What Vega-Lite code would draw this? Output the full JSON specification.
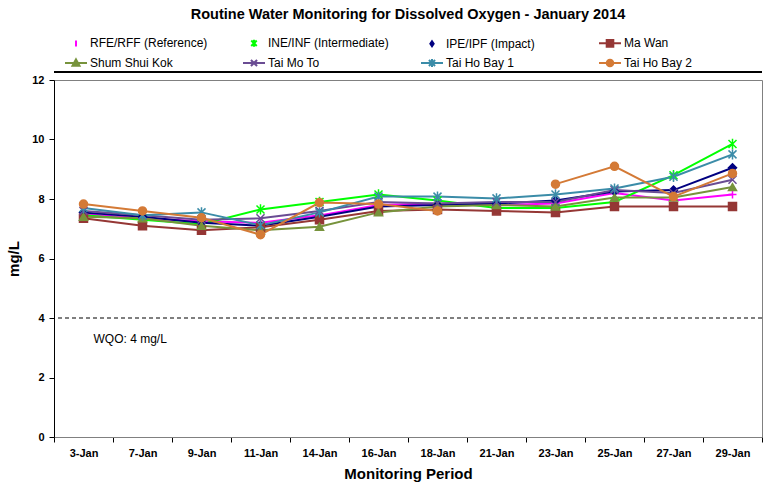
{
  "$schema": "https://vega.github.io/schema/vega-lite/v6.json",
  "width": 708,
  "height": 357,
  "autosize": {"type": "none"},
  "padding": {"left": 54, "top": 80, "right": 1, "bottom": 49},
  "background": "white",
  "title": {"text": "Routine Water Monitoring for Dissolved Oxygen - January 2014", "fontSize": 14.5, "fontWeight": "bold", "font": "Liberation Sans", "anchor": "middle", "frame": "group", "offset": 9, "color": "#000"},
  "config": {
    "font": "Liberation Sans",
    "view": {"stroke": "#808080", "strokeWidth": 1},
    "axis": {"labelFont": "Liberation Sans", "titleFont": "Liberation Sans", "labelColor": "#000", "titleColor": "#000", "tickColor": "#000", "domainColor": "#000"}
  },
  "data": {"values": [
    {"date": "3-Jan", "series": "RFE/RFF (Reference)", "value": 7.5},
    {"date": "7-Jan", "series": "RFE/RFF (Reference)", "value": 7.35},
    {"date": "9-Jan", "series": "RFE/RFF (Reference)", "value": 7.25},
    {"date": "11-Jan", "series": "RFE/RFF (Reference)", "value": 7.2},
    {"date": "14-Jan", "series": "RFE/RFF (Reference)", "value": 7.45},
    {"date": "16-Jan", "series": "RFE/RFF (Reference)", "value": 7.8},
    {"date": "18-Jan", "series": "RFE/RFF (Reference)", "value": 7.85},
    {"date": "21-Jan", "series": "RFE/RFF (Reference)", "value": 7.8},
    {"date": "23-Jan", "series": "RFE/RFF (Reference)", "value": 7.85},
    {"date": "25-Jan", "series": "RFE/RFF (Reference)", "value": 8.2},
    {"date": "27-Jan", "series": "RFE/RFF (Reference)", "value": 7.95},
    {"date": "29-Jan", "series": "RFE/RFF (Reference)", "value": 8.15},
    {"date": "3-Jan", "series": "INE/INF (Intermediate)", "value": 7.45},
    {"date": "7-Jan", "series": "INE/INF (Intermediate)", "value": 7.3},
    {"date": "9-Jan", "series": "INE/INF (Intermediate)", "value": 7.15},
    {"date": "11-Jan", "series": "INE/INF (Intermediate)", "value": 7.65},
    {"date": "14-Jan", "series": "INE/INF (Intermediate)", "value": 7.9},
    {"date": "16-Jan", "series": "INE/INF (Intermediate)", "value": 8.15},
    {"date": "18-Jan", "series": "INE/INF (Intermediate)", "value": 7.95},
    {"date": "21-Jan", "series": "INE/INF (Intermediate)", "value": 7.7},
    {"date": "23-Jan", "series": "INE/INF (Intermediate)", "value": 7.7},
    {"date": "25-Jan", "series": "INE/INF (Intermediate)", "value": 7.9},
    {"date": "27-Jan", "series": "INE/INF (Intermediate)", "value": 8.8},
    {"date": "29-Jan", "series": "INE/INF (Intermediate)", "value": 9.85},
    {"date": "3-Jan", "series": "IPE/IPF (Impact)", "value": 7.55},
    {"date": "7-Jan", "series": "IPE/IPF (Impact)", "value": 7.4},
    {"date": "9-Jan", "series": "IPE/IPF (Impact)", "value": 7.2},
    {"date": "11-Jan", "series": "IPE/IPF (Impact)", "value": 7.1},
    {"date": "14-Jan", "series": "IPE/IPF (Impact)", "value": 7.4},
    {"date": "16-Jan", "series": "IPE/IPF (Impact)", "value": 7.75},
    {"date": "18-Jan", "series": "IPE/IPF (Impact)", "value": 7.8},
    {"date": "21-Jan", "series": "IPE/IPF (Impact)", "value": 7.85},
    {"date": "23-Jan", "series": "IPE/IPF (Impact)", "value": 7.95},
    {"date": "25-Jan", "series": "IPE/IPF (Impact)", "value": 8.25},
    {"date": "27-Jan", "series": "IPE/IPF (Impact)", "value": 8.3},
    {"date": "29-Jan", "series": "IPE/IPF (Impact)", "value": 9.05},
    {"date": "3-Jan", "series": "Ma Wan", "value": 7.35},
    {"date": "7-Jan", "series": "Ma Wan", "value": 7.1},
    {"date": "9-Jan", "series": "Ma Wan", "value": 6.95},
    {"date": "11-Jan", "series": "Ma Wan", "value": 7.05},
    {"date": "14-Jan", "series": "Ma Wan", "value": 7.3},
    {"date": "16-Jan", "series": "Ma Wan", "value": 7.6},
    {"date": "18-Jan", "series": "Ma Wan", "value": 7.65},
    {"date": "21-Jan", "series": "Ma Wan", "value": 7.6},
    {"date": "23-Jan", "series": "Ma Wan", "value": 7.55},
    {"date": "25-Jan", "series": "Ma Wan", "value": 7.75},
    {"date": "27-Jan", "series": "Ma Wan", "value": 7.75},
    {"date": "29-Jan", "series": "Ma Wan", "value": 7.75},
    {"date": "3-Jan", "series": "Shum Shui Kok", "value": 7.4},
    {"date": "7-Jan", "series": "Shum Shui Kok", "value": 7.35},
    {"date": "9-Jan", "series": "Shum Shui Kok", "value": 7.1},
    {"date": "11-Jan", "series": "Shum Shui Kok", "value": 6.95},
    {"date": "14-Jan", "series": "Shum Shui Kok", "value": 7.07},
    {"date": "16-Jan", "series": "Shum Shui Kok", "value": 7.55},
    {"date": "18-Jan", "series": "Shum Shui Kok", "value": 7.75},
    {"date": "21-Jan", "series": "Shum Shui Kok", "value": 7.8},
    {"date": "23-Jan", "series": "Shum Shui Kok", "value": 7.75},
    {"date": "25-Jan", "series": "Shum Shui Kok", "value": 8.05},
    {"date": "27-Jan", "series": "Shum Shui Kok", "value": 8.05},
    {"date": "29-Jan", "series": "Shum Shui Kok", "value": 8.4},
    {"date": "3-Jan", "series": "Tai Mo To", "value": 7.6},
    {"date": "7-Jan", "series": "Tai Mo To", "value": 7.45},
    {"date": "9-Jan", "series": "Tai Mo To", "value": 7.3},
    {"date": "11-Jan", "series": "Tai Mo To", "value": 7.35},
    {"date": "14-Jan", "series": "Tai Mo To", "value": 7.6},
    {"date": "16-Jan", "series": "Tai Mo To", "value": 7.9},
    {"date": "18-Jan", "series": "Tai Mo To", "value": 7.85},
    {"date": "21-Jan", "series": "Tai Mo To", "value": 7.9},
    {"date": "23-Jan", "series": "Tai Mo To", "value": 7.9},
    {"date": "25-Jan", "series": "Tai Mo To", "value": 8.3},
    {"date": "27-Jan", "series": "Tai Mo To", "value": 8.2},
    {"date": "29-Jan", "series": "Tai Mo To", "value": 8.65},
    {"date": "3-Jan", "series": "Tai Ho Bay 1", "value": 7.7},
    {"date": "7-Jan", "series": "Tai Ho Bay 1", "value": 7.45},
    {"date": "9-Jan", "series": "Tai Ho Bay 1", "value": 7.55},
    {"date": "11-Jan", "series": "Tai Ho Bay 1", "value": 7.12},
    {"date": "14-Jan", "series": "Tai Ho Bay 1", "value": 7.55},
    {"date": "16-Jan", "series": "Tai Ho Bay 1", "value": 8.08},
    {"date": "18-Jan", "series": "Tai Ho Bay 1", "value": 8.08},
    {"date": "21-Jan", "series": "Tai Ho Bay 1", "value": 8.02},
    {"date": "23-Jan", "series": "Tai Ho Bay 1", "value": 8.15},
    {"date": "25-Jan", "series": "Tai Ho Bay 1", "value": 8.35},
    {"date": "27-Jan", "series": "Tai Ho Bay 1", "value": 8.75},
    {"date": "29-Jan", "series": "Tai Ho Bay 1", "value": 9.5},
    {"date": "3-Jan", "series": "Tai Ho Bay 2", "value": 7.83},
    {"date": "7-Jan", "series": "Tai Ho Bay 2", "value": 7.6},
    {"date": "9-Jan", "series": "Tai Ho Bay 2", "value": 7.37},
    {"date": "11-Jan", "series": "Tai Ho Bay 2", "value": 6.8},
    {"date": "14-Jan", "series": "Tai Ho Bay 2", "value": 7.88},
    {"date": "16-Jan", "series": "Tai Ho Bay 2", "value": 7.83},
    {"date": "18-Jan", "series": "Tai Ho Bay 2", "value": 7.6},
    {"date": "21-Jan", "series": "Tai Ho Bay 2", "value": null},
    {"date": "23-Jan", "series": "Tai Ho Bay 2", "value": 8.5},
    {"date": "25-Jan", "series": "Tai Ho Bay 2", "value": 9.1},
    {"date": "27-Jan", "series": "Tai Ho Bay 2", "value": 8.08},
    {"date": "29-Jan", "series": "Tai Ho Bay 2", "value": 8.86}
  ]},
  "encoding": {
    "x": {"field": "date", "type": "nominal", "sort": ["3-Jan","7-Jan","9-Jan","11-Jan","14-Jan","16-Jan","18-Jan","21-Jan","23-Jan","25-Jan","27-Jan","29-Jan"],
      "scale": {"paddingInner": 0, "paddingOuter": 0},
      "axis": {"title": "Monitoring Period", "titleFontSize": 15, "titleFontWeight": "bold", "titlePadding": 8, "labelAngle": 0, "labelFontSize": 11, "labelFontWeight": "bold", "labelPadding": 5, "tickBand": "extent", "tickSize": 5, "domainColor": "#808080"}},
    "y": {"field": "value", "type": "quantitative", "scale": {"domain": [0, 12], "nice": false},
      "axis": {"title": "mg/L", "titleFontSize": 15, "titleFontWeight": "bold", "titlePadding": 10, "values": [0,2,4,6,8,10,12], "grid": false, "labelFontSize": 11, "labelFontWeight": "bold", "labelPadding": 5, "tickSize": 5}}
  },
  "layer": [
    {
      "data": {"values": [{"v": 4}]},
      "mark": {"type": "rule", "color": "#000", "strokeDash": [4, 3], "strokeWidth": 1.2},
      "encoding": {"x": null, "y": {"field": "v", "type": "quantitative"}}
    },
    {
      "data": {"values": [{"v": 12.27}]},
      "mark": {"type": "rule", "color": "#000", "strokeWidth": 2, "clip": false},
      "encoding": {"x": null, "y": {"field": "v", "type": "quantitative"}}
    },
    {
      "data": {"values": [{"date": "3-Jan", "v": 3.3, "label": "WQO: 4 mg/L"}]},
      "mark": {"type": "text", "align": "left", "baseline": "middle", "dx": 10, "fontSize": 12, "font": "Liberation Sans", "color": "#000"},
      "encoding": {"y": {"field": "v", "type": "quantitative"}, "text": {"field": "label"}}
    },
    {
      "mark": {"type": "line", "strokeWidth": 2, "invalid": "break-paths-show-domains"},
      "encoding": {
        "stroke": {"field": "series", "type": "nominal", "legend": null,
          "scale": {"domain": ["RFE/RFF (Reference)","INE/INF (Intermediate)","IPE/IPF (Impact)","Ma Wan","Shum Shui Kok","Tai Mo To","Tai Ho Bay 1","Tai Ho Bay 2"],
            "range": ["#FF00FF","#00FF00","#000080","#953735","#77933C","#6A4C93","#3B8CA8","#D47A36"]}}
      }
    },
    {
      "transform": [{"filter": "datum.value != null"}],
      "mark": {"type": "point", "filled": true, "size": 64, "strokeWidth": 1.5, "opacity": 1},
      "encoding": {
        "fill": {"field": "series", "type": "nominal", "legend": null,
          "scale": {"domain": ["RFE/RFF (Reference)","INE/INF (Intermediate)","IPE/IPF (Impact)","Ma Wan","Shum Shui Kok","Tai Mo To","Tai Ho Bay 1","Tai Ho Bay 2"],
            "range": ["#FF00FF","#00FF00","#000080","#953735","#77933C","#6A4C93","#3B8CA8","#D47A36"]}},
        "stroke": {"field": "series", "type": "nominal", "legend": null,
          "scale": {"domain": ["RFE/RFF (Reference)","INE/INF (Intermediate)","IPE/IPF (Impact)","Ma Wan","Shum Shui Kok","Tai Mo To","Tai Ho Bay 1","Tai Ho Bay 2"],
            "range": ["#FF00FF","#00FF00","#000080","#953735","#77933C","#6A4C93","#3B8CA8","#D47A36"]}},
        "shape": {"field": "series", "type": "nominal", "legend": null,
          "scale": {"domain": ["RFE/RFF (Reference)","INE/INF (Intermediate)","IPE/IPF (Impact)","Ma Wan","Shum Shui Kok","Tai Mo To","Tai Ho Bay 1","Tai Ho Bay 2"],
            "range": ["M-1,0H1M0,-1V1", "M-1,-1L1,1M-1,1L1,-1M0,-1.3V1.3", "diamond", "square", "triangle-up", "M-1,-1L1,1M-1,1L1,-1", "M-1,-1L1,1M-1,1L1,-1M0,-1.3V1.3", "circle"]}}
      }
    },
    {
      "transform": [{"filter": "false"}],
      "mark": {"type": "point", "filled": true, "strokeWidth": 2, "opacity": 1},
      "encoding": {
        "fill": {"field": "series", "type": "nominal",
          "scale": {"domain": ["RFE/RFF (Reference)","INE/INF (Intermediate)","IPE/IPF (Impact)","Ma Wan","Shum Shui Kok","Tai Mo To","Tai Ho Bay 1","Tai Ho Bay 2"],
            "range": ["#FF00FF","#00FF00","#000080","#953735","#77933C","#6A4C93","#3B8CA8","#D47A36"]},
          "legend": {"orient": "none", "direction": "horizontal", "legendX": 10, "legendY": -49, "columns": 4, "columnPadding": 28, "rowPadding": 0, "symbolSize": 484, "symbolStrokeWidth": 2, "symbolOpacity": 1, "labelFontSize": 12, "labelFont": "Liberation Sans", "labelColor": "#000", "labelOffset": 2, "labelLimit": 300, "title": null, "gridAlign": "all"}},
        "stroke": {"field": "series", "type": "nominal",
          "scale": {"domain": ["RFE/RFF (Reference)","INE/INF (Intermediate)","IPE/IPF (Impact)","Ma Wan","Shum Shui Kok","Tai Mo To","Tai Ho Bay 1","Tai Ho Bay 2"],
            "range": ["#FF00FF","#00FF00","#000080","#953735","#77933C","#6A4C93","#3B8CA8","#D47A36"]},
          "legend": {"orient": "none", "direction": "horizontal", "legendX": 10, "legendY": -49, "columns": 4, "columnPadding": 28, "rowPadding": 0, "symbolSize": 484, "symbolStrokeWidth": 2, "symbolOpacity": 1, "labelFontSize": 12, "labelFont": "Liberation Sans", "labelColor": "#000", "labelOffset": 2, "labelLimit": 300, "title": null, "gridAlign": "all"}},
        "shape": {"field": "series", "type": "nominal",
          "scale": {"domain": ["RFE/RFF (Reference)","INE/INF (Intermediate)","IPE/IPF (Impact)","Ma Wan","Shum Shui Kok","Tai Mo To","Tai Ho Bay 1","Tai Ho Bay 2"],
            "range": ["M0,-0.28V0.28", "M-0.25,-0.25L0.25,0.25M-0.25,0.25L0.25,-0.25M0,-0.32V0.32", "M0,-0.22L0.15,0L0,0.22L-0.15,0Z", "M-1,0H1M-0.3,-0.3H0.3V0.3H-0.3Z", "M-1,0H1M0,-0.33L0.32,0.25H-0.32Z", "M-1,0H1M-0.28,-0.28L0.28,0.28M-0.28,0.28L0.28,-0.28", "M-1,0H1M-0.28,-0.28L0.28,0.28M-0.28,0.28L0.28,-0.28M0,-0.36V0.36", "M-1,0H1M-0.3,0A0.3,0.3 0 1,0 0.3,0A0.3,0.3 0 1,0 -0.3,0Z"]},
          "legend": {"orient": "none", "direction": "horizontal", "legendX": 10, "legendY": -49, "columns": 4, "columnPadding": 28, "rowPadding": 0, "symbolSize": 484, "symbolStrokeWidth": 2, "symbolOpacity": 1, "labelFontSize": 12, "labelFont": "Liberation Sans", "labelColor": "#000", "labelOffset": 2, "labelLimit": 300, "title": null, "gridAlign": "all"}}
      }
    }
  ],
  "resolve": {"scale": {"fill": "independent", "stroke": "independent", "shape": "independent"}, "legend": {"fill": "independent", "stroke": "independent", "shape": "independent"}}
}
